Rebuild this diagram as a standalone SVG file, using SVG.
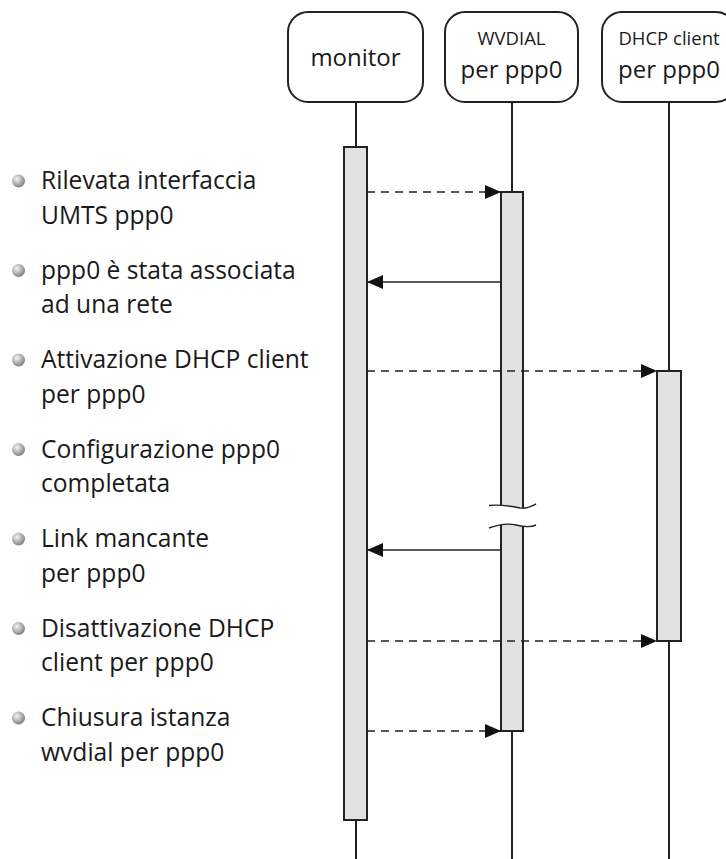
<svg xmlns="http://www.w3.org/2000/svg" width="726" height="859" viewBox="0 0 726 859">
  <style>
    .head { fill: #fff; stroke: #222; stroke-width: 2; }
    .life { stroke: #222; stroke-width: 2; fill: none; }
    .bar { fill: #e1e1e1; stroke: #222; stroke-width: 2; }
    .msg { stroke: #222; stroke-width: 1.6; fill: none; }
    .async { stroke-dasharray: 8 6; }
    .t { font-family: "Open Sans", Lato, "Liberation Sans", sans-serif; fill: #1a1a1a; }
    .big { font-size: 24px; }
    .small { font-size: 18.5px; }
    .item { font-size: 24.6px; }
  </style>
  <defs>
    <marker id="arrow" viewBox="0 0 16 14" refX="16" refY="7" markerWidth="16" markerHeight="14" markerUnits="userSpaceOnUse" orient="auto">
      <path d="M0,0 L16,7 L0,14 Z" fill="#111"/>
    </marker>
    <radialGradient id="ball" cx="0.38" cy="0.35" r="0.7">
      <stop offset="0" stop-color="#f4f4f4"/>
      <stop offset="0.55" stop-color="#b0b0b0"/>
      <stop offset="1" stop-color="#7a7a7a"/>
    </radialGradient>
  </defs>

  <!-- lifelines -->
  <g id="lifelines">
    <line class="life" x1="356" y1="102" x2="356" y2="859"/>
    <line class="life" x1="512" y1="102" x2="512" y2="859"/>
    <line class="life" x1="669" y1="102" x2="669" y2="859"/>
  </g>

  <!-- participants -->
  <g id="monitor">
    <rect class="head" x="288" y="12" width="135" height="90" rx="20"/>
    <text class="t big" x="355.5" y="66" text-anchor="middle">monitor</text>
    <rect class="bar" x="344" y="147" width="23" height="673"/>
  </g>
  <g id="wvdial">
    <rect class="head" x="445" y="12" width="133" height="90" rx="20"/>
    <text class="t small" x="511.5" y="45" text-anchor="middle">WVDIAL</text>
    <text class="t big" x="511.5" y="78" text-anchor="middle">per ppp0</text>
    <rect class="bar" x="501" y="192" width="22" height="539"/>
    <!-- interruption of the activation bar -->
    <path d="M489,505.5 C500,504 510,506 520,508 C527,509 532,506 536,504 L536,525 C530,528 524,527 516,525 C508,523 500,524 489,528 Z" fill="#fff"/>
    <path d="M489,505.5 C500,504 510,506 520,508 C527,509 532,506 536,504" fill="none" stroke="#222" stroke-width="1.4"/>
    <path d="M489,528 C500,524 508,523 516,525 C524,527 530,528 536,525" fill="none" stroke="#222" stroke-width="1.4"/>
  </g>
  <g id="dhcp">
    <rect class="head" x="602" y="12" width="134" height="90" rx="20"/>
    <text class="t small" x="669" y="45" text-anchor="middle">DHCP client</text>
    <text class="t big" x="669" y="78" text-anchor="middle">per ppp0</text>
    <rect class="bar" x="657" y="371" width="24" height="270"/>
  </g>

  <!-- messages -->
  <g id="connectors">
    <line class="msg async" x1="367" y1="192" x2="501" y2="192" marker-end="url(#arrow)"/>
    <line class="msg" x1="501" y1="282" x2="367" y2="282" marker-end="url(#arrow)"/>
    <line class="msg async" x1="367" y1="371" x2="657" y2="371" marker-end="url(#arrow)"/>
    <line class="msg" x1="501" y1="550" x2="367" y2="550" marker-end="url(#arrow)"/>
    <line class="msg async" x1="367" y1="641" x2="657" y2="641" marker-end="url(#arrow)"/>
    <line class="msg async" x1="367" y1="731" x2="501" y2="731" marker-end="url(#arrow)"/>
  </g>

  <!-- bullet list of events -->
  <g id="events" class="t item">
    <circle cx="18.5" cy="181" r="6.5" fill="url(#ball)"/>
    <text x="41" y="189">Rilevata interfaccia</text>
    <text x="41" y="223.5">UMTS ppp0</text>

    <circle cx="18.5" cy="270.5" r="6.5" fill="url(#ball)"/>
    <text x="41" y="278.5">ppp0 è stata associata</text>
    <text x="41" y="313">ad una rete</text>

    <circle cx="18.5" cy="360" r="6.5" fill="url(#ball)"/>
    <text x="41" y="368">Attivazione DHCP client</text>
    <text x="41" y="402.5">per ppp0</text>

    <circle cx="18.5" cy="449.5" r="6.5" fill="url(#ball)"/>
    <text x="41" y="457.5">Configurazione ppp0</text>
    <text x="41" y="492">completata</text>

    <circle cx="18.5" cy="539" r="6.5" fill="url(#ball)"/>
    <text x="41" y="547">Link mancante</text>
    <text x="41" y="581.5">per ppp0</text>

    <circle cx="18.5" cy="628.5" r="6.5" fill="url(#ball)"/>
    <text x="41" y="636.5">Disattivazione DHCP</text>
    <text x="41" y="671">client per ppp0</text>

    <circle cx="18.5" cy="718" r="6.5" fill="url(#ball)"/>
    <text x="41" y="726">Chiusura istanza</text>
    <text x="41" y="760.5">wvdial per ppp0</text>
  </g>
</svg>
